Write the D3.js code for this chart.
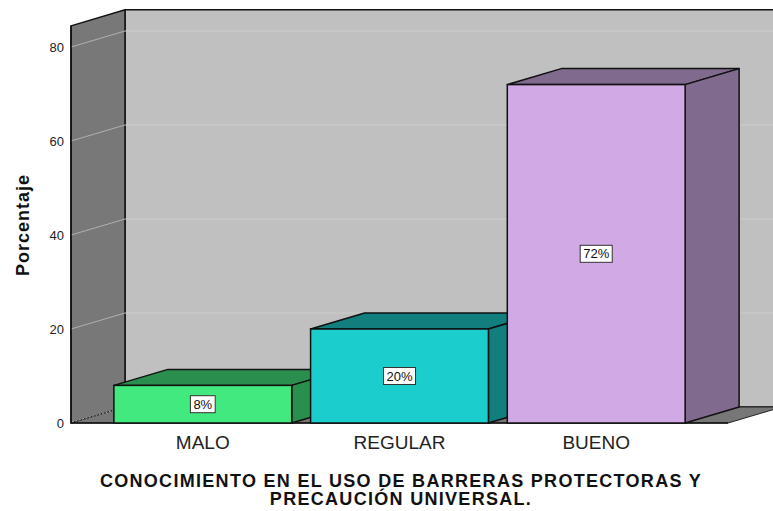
<!DOCTYPE html>
<html>
<head>
<meta charset="utf-8">
<script src="https://cdn.jsdelivr.net/npm/d3@7"></script>
<style>
  body { margin: 0; background: #fff; }
  svg { font-family: Arial, "Liberation Sans", sans-serif; }
</style>
</head>
<body>
<div id="chart"></div>
<script>
// data
var categories = ["MALO", "REGULAR", "BUENO"];
var percents = [8, 20, 72];
var labels = ["8%", "20%", "72%"];
var yTicks = [0, 20, 40, 60, 80];
var frontColors = ["#41e97e", "#1ccdcd", "#d1a9e4"];
var sideColors = ["#2a8f4e", "#127e7e", "#806a8e"];

var width = 773;
var height = 511;

// 3d depth offset
var dx = 54;
var dy = -16;

var left = 71, right = 728;
var base = 423;

var svg = d3.select("#chart").append("svg")
  .attr("width", width)
  .attr("height", height);

var xScale = d3.scaleBand()
  .domain(categories)
  .range([left, right])
  .paddingInner(0.096)
  .paddingOuter(0.218);

var yScale = d3.scaleLinear()
  .domain([0, 80])
  .range([base, 47]);

var yTop = yScale(84.5);

function pts(arr) {
  return arr.map(p => p.join(",")).join(" ");
}

/* walls */
svg.append("polygon")
  .attr("points", pts([[left + dx, yTop + dy], [right + dx, yTop + dy], [right + dx, base + dy], [left + dx, base + dy]]))
  .attr("fill", "#c0c0c0")
  .attr("stroke", "#111")
  .attr("stroke-width", 1.5);

svg.append("polygon")
  .attr("points", pts([[left, yTop], [left + dx, yTop + dy], [left + dx, base + dy], [left, base]]))
  .attr("fill", "#787878")
  .attr("stroke", "#111")
  .attr("stroke-width", 1.5);

svg.append("polygon")
  .attr("points", pts([[left, base], [left + dx, base + dy], [right + dx, base + dy], [right, base]]))
  .attr("fill", "#777777")
  .attr("stroke", "#222")
  .attr("stroke-width", 1);

/* gridlines */
var grid = svg.append("g");
grid.selectAll(".gb")
  .data(yTicks.filter(d => d > 0))
  .enter()
  .append("line")
  .attr("x1", left + dx)
  .attr("x2", right + dx)
  .attr("y1", d => yScale(d) + dy)
  .attr("y2", d => yScale(d) + dy)
  .attr("stroke", "#cdcdcd")
  .attr("stroke-width", 1);

grid.selectAll(".gl")
  .data(yTicks.filter(d => d > 0))
  .enter()
  .append("line")
  .attr("x1", left)
  .attr("x2", left + dx)
  .attr("y1", d => yScale(d))
  .attr("y2", d => yScale(d) + dy)
  .attr("stroke", "#b0b0b0")
  .attr("stroke-width", 1);

grid.append("line")
  .attr("x1", left + 1)
  .attr("y1", base - 1)
  .attr("x2", left + dx)
  .attr("y2", base + dy)
  .attr("stroke", "#bbbbbb")
  .attr("stroke-dasharray", "2,1.5");

// front edges of the walls
svg.append("line")
  .attr("x1", left).attr("x2", left)
  .attr("y1", yTop).attr("y2", base)
  .attr("stroke", "#111").attr("stroke-width", 1.5);
svg.append("line")
  .attr("x1", left).attr("x2", right)
  .attr("y1", base).attr("y2", base)
  .attr("stroke", "#111").attr("stroke-width", 1.5);

/* bars */
var bars = svg.selectAll(".bar")
  .data(categories)
  .enter()
  .append("g")
  .attr("class", "bar");

var bw = xScale.bandwidth();

bars.append("polygon")
  .attr("points", (d, i) => {
    var x0 = xScale(d), yv = yScale(percents[i]);
    return pts([[x0, yv], [x0 + dx, yv + dy], [x0 + bw + dx, yv + dy], [x0 + bw, yv]]);
  })
  .attr("fill", (d, i) => sideColors[i])
  .attr("stroke", "#111")
  .attr("stroke-width", 1.5)
  .attr("stroke-linejoin", "round");

bars.append("polygon")
  .attr("points", (d, i) => {
    var x1 = xScale(d) + bw, yv = yScale(percents[i]);
    return pts([[x1, yv], [x1 + dx, yv + dy], [x1 + dx, base + dy], [x1, base]]);
  })
  .attr("fill", (d, i) => sideColors[i])
  .attr("stroke", "#111")
  .attr("stroke-width", 1.5)
  .attr("stroke-linejoin", "round");

bars.append("rect")
  .attr("x", d => xScale(d))
  .attr("y", (d, i) => yScale(percents[i]))
  .attr("width", bw)
  .attr("height", (d, i) => base - yScale(percents[i]))
  .attr("fill", (d, i) => frontColors[i])
  .attr("stroke", "#111")
  .attr("stroke-width", 1.5);

/* value labels */
bars.each(function(d, i) {
  var g = d3.select(this);
  var cx = xScale(d) + bw / 2;
  var cy = (yScale(percents[i]) + base) / 2;
  var t = g.append("text")
    .attr("x", cx)
    .attr("y", cy + 4.5)
    .attr("text-anchor", "middle")
    .attr("font-size", "13px")
    .attr("fill", "#111")
    .text(labels[i]);
  var w = t.node().getComputedTextLength() + 6;
  g.insert("rect", "text")
    .attr("x", cx - w / 2)
    .attr("y", cy - 8.5)
    .attr("width", w)
    .attr("height", 17)
    .attr("fill", "#fff")
    .attr("stroke", "#333")
    .attr("stroke-width", 1);
});

/* axes text */
svg.selectAll(".ytick")
  .data(yTicks)
  .enter()
  .append("text")
  .attr("x", 64)
  .attr("y", d => yScale(d) + 4.5)
  .attr("text-anchor", "end")
  .attr("font-size", "13px")
  .attr("fill", "#222")
  .text(d => d);

svg.selectAll(".xlab")
  .data(categories)
  .enter()
  .append("text")
  .attr("x", d => xScale(d) + bw / 2)
  .attr("y", 449)
  .attr("text-anchor", "middle")
  .attr("font-size", "19px")
  .attr("fill", "#222")
  .text(d => d);

svg.append("text")
  .attr("transform", "translate(29, 225) rotate(-90)")
  .attr("text-anchor", "middle")
  .attr("font-size", "18px")
  .attr("font-weight", "bold")
  .attr("letter-spacing", "1px")
  .attr("fill", "#111")
  .text("Porcentaje");

var title = svg.append("text")
  .attr("text-anchor", "middle")
  .attr("font-size", "18px")
  .attr("font-weight", "bold")
  .attr("letter-spacing", "1.3px")
  .attr("fill", "#111");
title.append("tspan").attr("x", 401).attr("y", 487)
  .text("CONOCIMIENTO EN EL USO DE BARRERAS PROTECTORAS Y");
title.append("tspan").attr("x", 401).attr("y", 505)
  .text("PRECAUCIÓN UNIVERSAL.");
</script>
</body>
</html>
